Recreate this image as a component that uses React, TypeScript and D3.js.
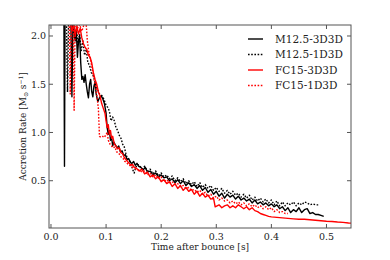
import * as d3 from 'd3';
import React from 'react';

// M12.5-3D3D (black solid)
const m125_3d_t = [0.020, 0.0235, 0.0245, 0.0255, 0.036, 0.038, 0.040, 0.044, 0.046, 0.048, 0.050, 0.052, 0.054, 0.056, 0.058, 0.060, 0.062, 0.064, 0.066, 0.068, 0.070, 0.072, 0.074, 0.076, 0.078, 0.080, 0.082, 0.085, 0.088, 0.091, 0.094, 0.097, 0.100, 0.102, 0.104, 0.106, 0.108, 0.110, 0.112, 0.114, 0.117, 0.120, 0.123, 0.126, 0.129, 0.132, 0.135, 0.138, 0.141, 0.144, 0.147, 0.150, 0.153, 0.156, 0.159, 0.163, 0.167, 0.171, 0.175, 0.180, 0.185, 0.190, 0.195, 0.200, 0.205, 0.210, 0.215, 0.220, 0.225, 0.230, 0.235, 0.240, 0.245, 0.250, 0.255, 0.260, 0.265, 0.270, 0.275, 0.280, 0.285, 0.290, 0.295, 0.300, 0.305, 0.310, 0.315, 0.320, 0.325, 0.330, 0.335, 0.340, 0.345, 0.350, 0.355, 0.360, 0.365, 0.370, 0.375, 0.380, 0.385, 0.390, 0.395, 0.400, 0.405, 0.410, 0.415, 0.420, 0.425, 0.430, 0.435, 0.440, 0.445, 0.450, 0.455, 0.460, 0.465, 0.470, 0.475, 0.480, 0.485, 0.490, 0.495];
const m125_3d_y = [2.2, 2.2, 0.65, 2.2, 2.2, 1.37, 2.2, 1.95, 2.05, 1.78, 1.95, 2.0, 1.72, 1.55, 1.58, 1.52, 1.6, 1.5, 1.42, 1.36, 1.5, 1.55, 1.42, 1.37, 1.48, 1.52, 1.4, 1.32, 1.36, 1.38, 1.35, 1.3, 1.2, 1.05, 0.98, 1.02, 0.92, 0.95, 0.86, 0.9, 0.87, 0.84, 0.86, 0.8, 0.81, 0.76, 0.77, 0.72, 0.73, 0.69, 0.68, 0.7, 0.66, 0.68, 0.65, 0.64, 0.61, 0.64, 0.59, 0.6, 0.56, 0.58, 0.54, 0.56, 0.53, 0.54, 0.5, 0.52, 0.48, 0.51, 0.47, 0.5, 0.45, 0.48, 0.44, 0.46, 0.42, 0.45, 0.4, 0.43, 0.38, 0.41, 0.36, 0.39, 0.34, 0.37, 0.32, 0.36, 0.33, 0.35, 0.31, 0.34, 0.3, 0.32, 0.29, 0.31, 0.27, 0.3, 0.26, 0.28, 0.25, 0.27, 0.24, 0.26, 0.23, 0.25, 0.21, 0.23, 0.19, 0.22, 0.17, 0.2, 0.18, 0.22, 0.17, 0.2, 0.21, 0.16, 0.17, 0.15, 0.15, 0.14, 0.13];

// M12.5-1D3D (black dotted)
const m125_1d_t = [0.028, 0.030, 0.032, 0.040, 0.043, 0.046, 0.049, 0.052, 0.055, 0.058, 0.061, 0.064, 0.067, 0.070, 0.073, 0.076, 0.079, 0.082, 0.085, 0.088, 0.091, 0.094, 0.097, 0.100, 0.103, 0.106, 0.109, 0.112, 0.115, 0.118, 0.121, 0.124, 0.127, 0.130, 0.133, 0.136, 0.139, 0.142, 0.145, 0.148, 0.151, 0.154, 0.157, 0.160, 0.165, 0.170, 0.175, 0.180, 0.185, 0.190, 0.195, 0.200, 0.205, 0.210, 0.215, 0.220, 0.225, 0.230, 0.235, 0.240, 0.245, 0.250, 0.255, 0.260, 0.265, 0.270, 0.275, 0.280, 0.285, 0.290, 0.295, 0.300, 0.305, 0.310, 0.315, 0.320, 0.325, 0.330, 0.335, 0.340, 0.345, 0.350, 0.355, 0.360, 0.365, 0.370, 0.375, 0.380, 0.385, 0.390, 0.395, 0.400, 0.405, 0.410, 0.415, 0.420, 0.425, 0.430, 0.435, 0.440, 0.445, 0.450, 0.455, 0.460, 0.465, 0.470, 0.475, 0.480, 0.485];
const m125_1d_y = [2.2, 1.42, 2.2, 2.1, 1.98, 2.08, 1.92, 2.02, 1.85, 1.95, 1.8, 1.86, 1.72, 1.7, 1.62, 1.6, 1.55, 1.48, 1.44, 1.4, 1.39, 1.37, 1.33, 1.28, 1.26, 1.22, 1.12, 1.16, 1.12, 1.05, 1.02, 0.97, 0.94, 0.88, 0.85, 0.78, 0.72, 0.71, 0.69, 0.62, 0.58, 0.64, 0.67, 0.66, 0.62, 0.65, 0.6, 0.62, 0.57, 0.6, 0.55, 0.58, 0.54, 0.56, 0.52, 0.55, 0.5, 0.53, 0.49, 0.52, 0.47, 0.5, 0.46, 0.49, 0.44, 0.48, 0.43, 0.46, 0.42, 0.45, 0.4, 0.43, 0.39, 0.42, 0.37, 0.4, 0.36, 0.39, 0.35, 0.37, 0.33, 0.36, 0.32, 0.35, 0.3, 0.33, 0.29, 0.32, 0.28, 0.31, 0.27, 0.3, 0.25, 0.29, 0.24, 0.28, 0.24, 0.27, 0.25, 0.28, 0.24, 0.27, 0.25, 0.28, 0.27, 0.25, 0.26, 0.25, 0.25];

// FC15-3D3D (red solid)
const fc15_3d_t = [0.034, 0.038, 0.041, 0.044, 0.047, 0.050, 0.053, 0.056, 0.059, 0.062, 0.065, 0.068, 0.071, 0.074, 0.077, 0.080, 0.083, 0.086, 0.089, 0.092, 0.095, 0.098, 0.100, 0.102, 0.104, 0.106, 0.108, 0.110, 0.112, 0.115, 0.118, 0.121, 0.124, 0.127, 0.130, 0.133, 0.136, 0.139, 0.142, 0.145, 0.148, 0.151, 0.155, 0.160, 0.165, 0.170, 0.175, 0.180, 0.185, 0.190, 0.195, 0.200, 0.205, 0.210, 0.215, 0.220, 0.225, 0.230, 0.235, 0.240, 0.245, 0.250, 0.255, 0.260, 0.265, 0.270, 0.275, 0.280, 0.285, 0.290, 0.295, 0.298, 0.305, 0.310, 0.315, 0.320, 0.325, 0.330, 0.335, 0.340, 0.345, 0.350, 0.355, 0.360, 0.365, 0.370, 0.375, 0.380, 0.385, 0.390, 0.395, 0.400, 0.410, 0.420, 0.430, 0.440, 0.450, 0.460, 0.470, 0.480, 0.490, 0.500, 0.510, 0.520, 0.530, 0.540, 0.550];
const fc15_3d_y = [2.2, 2.05, 2.12, 2.0, 2.1, 2.02, 2.08, 1.98, 1.92, 1.88, 1.86, 1.8, 1.78, 1.72, 1.62, 1.55, 1.5, 1.42, 1.38, 1.3, 1.25, 1.2, 1.12, 1.05, 1.08, 0.98, 1.02, 0.94, 0.96, 0.88, 0.86, 0.83, 0.84, 0.79, 0.78, 0.74, 0.72, 0.7, 0.68, 0.66, 0.67, 0.64, 0.63, 0.6, 0.62, 0.57, 0.59, 0.54, 0.56, 0.52, 0.54, 0.49, 0.51, 0.47, 0.49, 0.44, 0.47, 0.42, 0.45, 0.4, 0.43, 0.39, 0.41, 0.36, 0.39, 0.34, 0.37, 0.33, 0.35, 0.31, 0.32, 0.23, 0.25, 0.22, 0.24, 0.25, 0.22, 0.24, 0.22, 0.25, 0.23, 0.21, 0.23, 0.2, 0.22, 0.19, 0.18, 0.16, 0.15, 0.14, 0.13, 0.125, 0.12, 0.115, 0.11, 0.105, 0.1, 0.1, 0.095, 0.09, 0.085, 0.08, 0.078, 0.072, 0.068, 0.062, 0.058];

// FC15-1D3D (red dotted)
const fc15_1d_t = [0.033, 0.035, 0.037, 0.0405, 0.042, 0.044, 0.048, 0.052, 0.056, 0.060, 0.063, 0.066, 0.069, 0.072, 0.075, 0.078, 0.081, 0.084, 0.086, 0.088, 0.091, 0.094, 0.097, 0.100, 0.102, 0.104, 0.107, 0.110, 0.113, 0.116, 0.119, 0.122, 0.125, 0.128, 0.131, 0.134, 0.137, 0.140, 0.145, 0.150, 0.155, 0.160, 0.165, 0.170, 0.175, 0.180, 0.185, 0.190, 0.195, 0.200, 0.205, 0.210, 0.215, 0.220, 0.225, 0.230, 0.235, 0.240, 0.245, 0.250, 0.255, 0.260, 0.265, 0.270, 0.275, 0.280, 0.285, 0.290, 0.295, 0.300, 0.305, 0.310, 0.315, 0.320, 0.325, 0.330, 0.335, 0.340, 0.345, 0.350, 0.355, 0.360, 0.365, 0.370, 0.375, 0.380, 0.385, 0.390, 0.395, 0.400, 0.405, 0.410, 0.415, 0.420, 0.425, 0.430];
const fc15_1d_y = [2.2, 1.4, 2.2, 2.2, 1.23, 2.2, 2.08, 2.12, 2.05, 2.12, 2.2, 1.95, 1.82, 1.75, 1.65, 1.55, 1.48, 1.35, 1.25, 0.96, 0.95, 0.96, 0.95, 0.98, 1.0, 0.92, 0.88, 0.86, 0.84, 0.85, 0.8, 0.79, 0.77, 0.74, 0.73, 0.7, 0.69, 0.67, 0.65, 0.63, 0.62, 0.61, 0.59, 0.6, 0.56, 0.58, 0.54, 0.56, 0.52, 0.54, 0.49, 0.51, 0.48, 0.49, 0.46, 0.47, 0.44, 0.45, 0.42, 0.43, 0.4, 0.41, 0.38, 0.4, 0.36, 0.38, 0.34, 0.36, 0.32, 0.34, 0.3, 0.32, 0.29, 0.3, 0.27, 0.29, 0.26, 0.28, 0.25, 0.27, 0.24, 0.26, 0.23, 0.25, 0.22, 0.24, 0.21, 0.23, 0.2, 0.22, 0.18, 0.2, 0.17, 0.18, 0.16, 0.16];

const xTicks = [0.0, 0.1, 0.2, 0.3, 0.4, 0.5];
const yTicks = [0.5, 1.0, 1.5, 2.0];

const series = [
  { name: 'M12.5-3D3D', t: m125_3d_t, y: m125_3d_y, color: '#000000', dash: null },
  { name: 'M12.5-1D3D', t: m125_1d_t, y: m125_1d_y, color: '#000000', dash: '1.6,1.6' },
  { name: 'FC15-3D3D', t: fc15_3d_t, y: fc15_3d_y, color: '#ff0000', dash: null },
  { name: 'FC15-1D3D', t: fc15_1d_t, y: fc15_1d_y, color: '#ff0000', dash: '1.6,1.6' },
];

const width = 390;
const height = 260;
const margin = { top: 25, right: 39, bottom: 32, left: 49 };
const font = '"DejaVu Serif", serif';

export default function App() {
  const innerW = width - margin.left - margin.right;
  const innerH = height - margin.top - margin.bottom;

  const x = d3.scaleLinear().domain([-0.0036, 0.5445]).range([0, innerW]);
  const y = d3.scaleLinear().domain([0.01, 2.114]).range([innerH, 0]);

  const line = d3.line<[number, number]>()
    .x(d => x(d[0]))
    .y(d => y(d[1]));

  const tickLen = 4;
  const axisColor = '#555';

  return (
    <svg width={width} height={height} style={{ position: 'absolute', left: 0, top: 0, background: '#fff' }}>
      <defs>
        <clipPath id="plot-clip">
          <rect x={0} y={0} width={innerW} height={innerH} />
        </clipPath>
      </defs>
      <g transform={`translate(${margin.left},${margin.top})`}>
        <g clipPath="url(#plot-clip)">
          {series.map(s => (
            <path
              key={s.name}
              d={line(s.t.map((t, i) => [t, s.y[i]] as [number, number])) || ''}
              fill="none"
              stroke={s.color}
              strokeWidth={1.4}
              strokeDasharray={s.dash || undefined}
              strokeLinejoin="round"
            />
          ))}
        </g>

        {/* frame */}
        <rect x={0} y={0} width={innerW} height={innerH} fill="none" stroke={axisColor} strokeWidth={1} />

        {/* x ticks */}
        {xTicks.map(t => (
          <g key={'x' + t} transform={`translate(${x(t)},0)`}>
            <line y1={innerH} y2={innerH - tickLen} stroke={axisColor} />
            <line y1={0} y2={tickLen} stroke={axisColor} />
            <text y={innerH + 12} textAnchor="middle" fontFamily={font} fontSize={9.5} fill="#222">
              {t.toFixed(1)}
            </text>
          </g>
        ))}

        {/* y ticks */}
        {yTicks.map(v => (
          <g key={'y' + v} transform={`translate(0,${y(v)})`}>
            <line x1={0} x2={tickLen} stroke={axisColor} />
            <line x1={innerW} x2={innerW - tickLen} stroke={axisColor} />
            <text x={-3} dy="0.35em" textAnchor="end" fontFamily={font} fontSize={9.5} fill="#222">
              {v.toFixed(1)}
            </text>
          </g>
        ))}

        {/* axis labels */}
        <text x={innerW / 2} y={innerH + 22} textAnchor="middle" fontFamily={font} fontSize={9} fill="#222">
          Time after bounce [s]
        </text>
        <text
          transform={`translate(${-23},${innerH / 2}) rotate(-90)`}
          textAnchor="middle"
          fontFamily={font}
          fontSize={9}
          fill="#222"
        >
          Accretion Rate [M<tspan fontSize={6} dy={2}>⊙</tspan><tspan dy={-2}> s</tspan><tspan fontSize={6} dy={-3}>−1</tspan><tspan dy={3}>]</tspan>
        </text>

        {/* legend */}
        {series.map((s, i) => (
          <g key={'lg' + s.name} transform={`translate(${199},${14 + i * 15.5})`}>
            <line x1={0} x2={15} stroke={s.color} strokeWidth={1.4} strokeDasharray={s.dash || undefined} />
            <text x={27} dy="0.35em" fontFamily={font} fontSize={10.5} fill="#222">
              {s.name}
            </text>
          </g>
        ))}
      </g>
    </svg>
  );
}
